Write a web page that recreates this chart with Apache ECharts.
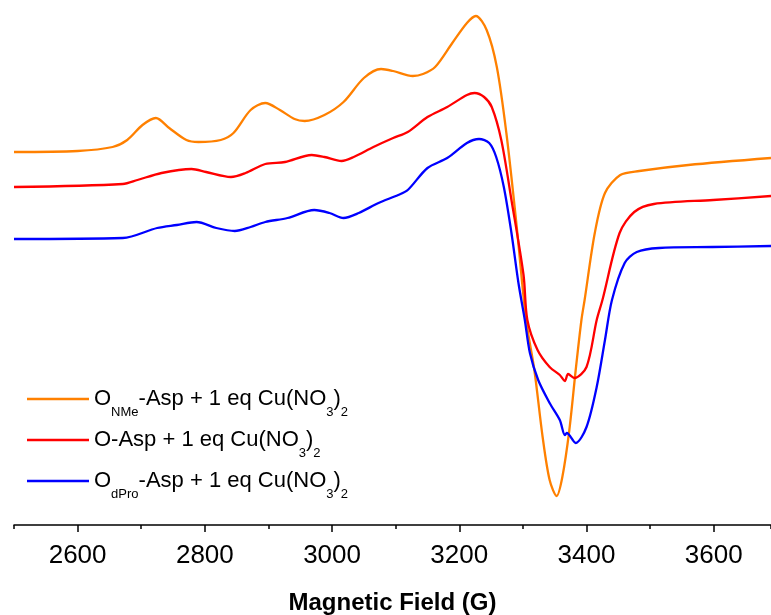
<!DOCTYPE html>
<html>
<head>
<meta charset="utf-8">
<script src="https://cdn.jsdelivr.net/npm/echarts@6/dist/echarts.min.js"></script>
<style>
  html, body { margin: 0; padding: 0; background: #fff; }
  #main { width: 771px; height: 615px; }
</style>
</head>
<body>
<div id="main"></div>
<script>
// EPR spectra, [field (G), intensity (a.u.)]
var onmeData = [
  [2500, 373], [2600, 374], [2655, 378], [2678, 385], [2702, 400], [2723, 407], [2744, 397],
  [2771, 385], [2790, 383], [2825, 385], [2845, 392], [2872, 415], [2895, 422], [2918, 415],
  [2941, 406], [2957, 404], [2988, 410], [3018, 423], [3050, 447], [3077, 456], [3096, 454],
  [3127, 449], [3143, 451], [3162, 458], [3189, 482], [3212, 502], [3226, 509], [3243, 495],
  [3259, 458], [3274, 392], [3290, 300], [3305, 205], [3318, 155], [3331, 88], [3342, 45],
  [3353, 29], [3362, 48], [3373, 95], [3383, 155], [3392, 205], [3397, 225], [3413, 292],
  [3429, 332], [3453, 350], [3483, 354], [3560, 360], [3690, 367]
];
var oaspData = [
  [2500, 338], [2671, 341], [2694, 345], [2732, 352], [2779, 356], [2802, 353], [2841, 348],
  [2864, 352], [2895, 361], [2926, 363], [2968, 370], [2988, 368], [3015, 364], [3034, 368],
  [3065, 378], [3096, 387], [3119, 393], [3150, 408], [3181, 418], [3212, 430], [3224, 432],
  [3239, 428], [3251, 418], [3266, 385], [3282, 325], [3301, 250], [3307, 205], [3323, 175],
  [3342, 158], [3358, 150], [3366, 144], [3371, 151], [3381, 147], [3400, 158], [3416, 205],
  [3425, 225], [3452, 292], [3475, 313], [3506, 321], [3599, 325], [3690, 329]
];
var dproData = [
  [2500, 286], [2671, 287], [2725, 297], [2756, 300], [2787, 303], [2818, 297], [2847, 294],
  [2872, 298], [2895, 303], [2930, 307], [2972, 315], [2996, 312], [3018, 307], [3042, 312],
  [3073, 322], [3104, 330], [3119, 335], [3150, 357], [3181, 367], [3212, 382], [3231, 386],
  [3247, 382], [3258, 368], [3270, 338], [3282, 292], [3293, 242], [3303, 205], [3311, 172],
  [3324, 145], [3342, 122], [3358, 105], [3366, 90], [3369, 92], [3383, 82], [3400, 98],
  [3416, 138], [3429, 185], [3440, 225], [3460, 262], [3479, 273], [3514, 277], [3598, 278],
  [3690, 279]
];

var seriesNames = ['ONMe-Asp + 1 eq Cu(NO3)2', 'O-Asp + 1 eq Cu(NO3)2', 'OdPro-Asp + 1 eq Cu(NO3)2'];
// legend text with subscripts
var legendRich = [
  '{m|O}{s|NMe}{m|-Asp + 1 eq Cu(NO}{s|3}{m|)}{s|2}',
  '{m|O-Asp + 1 eq Cu(NO}{s|3}{m|)}{s|2}',
  '{m|O}{s|dPro}{m|-Asp + 1 eq Cu(NO}{s|3}{m|)}{s|2}'
];
var majorTicks = [2600, 2800, 3000, 3200, 3400, 3600];

var FONT = '"Liberation Sans", Arial, sans-serif';

var chart = echarts.init(document.getElementById('main'));

function lineSeries(name, data, color) {
  return {
    name: name,
    type: 'line',
    data: data,
    showSymbol: false,
    symbol: 'none',
    smooth: 0.3,
    lineStyle: { color: color, width: 2.3 },
    itemStyle: { color: color }
  };
}

chart.setOption({
  backgroundColor: '#fff',
  animation: false,
  grid: [
    { left: 14, right: 0, top: 0, bottom: 90, outerBoundsMode: 'none' },
    { left: 14, right: 0, top: 0, bottom: 90, outerBoundsMode: 'none' }
  ],
  legend: {
    left: 27,
    top: 388,
    padding: 0,
    orient: 'vertical',
    icon: 'rect',
    itemWidth: 62,
    itemHeight: 2.5,
    itemGap: 10,
    data: seriesNames,
    formatter: function (name) {
      return legendRich[seriesNames.indexOf(name)];
    },
    textStyle: {
      color: '#000',
      fontFamily: FONT,
      rich: {
        m: { fontSize: 22, lineHeight: 40, verticalAlign: 'middle', fontFamily: FONT, color: '#000' },
        s: { fontSize: 13, lineHeight: 11, verticalAlign: 'bottom', fontFamily: FONT, color: '#000' }
      }
    }
  },
  xAxis: [{
    // all hundreds get a short tick, labels every 200
    type: 'value',
    gridIndex: 0,
    min: 2500,
    max: 3690,
    interval: 100,
    name: 'Magnetic Field (G)',
    nameLocation: 'middle',
    nameGap: 66,
    nameTextStyle: { fontSize: 24, fontWeight: 'bold', color: '#000', fontFamily: FONT },
    axisLine: { show: true, lineStyle: { color: '#000', width: 1.5 } },
    axisTick: { show: true, length: 4, lineStyle: { color: '#000', width: 1.5 } },
    axisLabel: {
      fontSize: 26, color: '#000', fontFamily: FONT, margin: 18,
      formatter: function (v) { return v % 200 === 0 ? String(v) : ''; }
    },
    splitLine: { show: false }
  }, {
    // longer ticks on the labelled values
    type: 'value',
    gridIndex: 1,
    min: 2500,
    max: 3690,
    interval: 100,
    axisLine: { show: false },
    axisTick: { show: true, length: 7, customValues: majorTicks, lineStyle: { color: '#000', width: 1.5 } },
    axisLabel: { show: false },
    splitLine: { show: false }
  }],
  yAxis: [
    { type: 'value', gridIndex: 0, min: 0, max: 525, show: false },
    { type: 'value', gridIndex: 1, min: 0, max: 525, show: false }
  ],
  series: [
    lineSeries(seriesNames[0], onmeData, '#FF8000'),
    lineSeries(seriesNames[1], oaspData, '#FF0000'),
    lineSeries(seriesNames[2], dproData, '#0000FF')
  ]
});
</script>
</body>
</html>
